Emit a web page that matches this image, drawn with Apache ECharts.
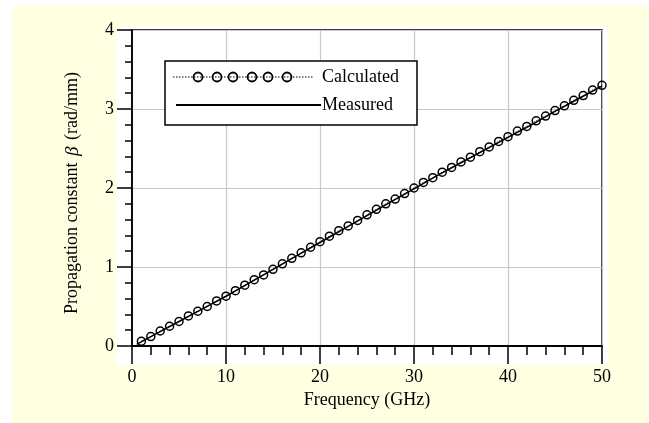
<!DOCTYPE html>
<html><head><meta charset="utf-8">
<script src="https://cdn.jsdelivr.net/npm/echarts@6/dist/echarts.min.js"></script>
<style>html,body{margin:0;padding:0;background:#fff;}#c{width:649px;height:423px;}</style>
</head><body><div id="c"></div>
<script>
var calcFreq = [1,2,3,4,5,6,7,8,9,10,11,12,13,14,15,16,17,18,19,20,21,22,23,24,25,26,27,28,29,30,31,32,33,34,35,36,37,38,39,40,41,42,43,44,45,46,47,48,49,50];
var calcBeta = [0.06,0.12,0.19,0.25,0.31,0.38,0.44,0.50,0.57,0.63,0.70,0.77,0.84,0.90,0.97,1.04,1.11,1.18,1.25,1.32,1.39,1.46,1.52,1.59,1.66,1.73,1.80,1.86,1.93,2.00,2.07,2.13,2.20,2.26,2.33,2.39,2.46,2.52,2.59,2.65,2.72,2.78,2.85,2.91,2.98,3.04,3.11,3.17,3.24,3.30];
var measFreq = [0.5,2.5,5,7.5,10,12.5,15,17.5,20,22.5,25,27.5,30,32.5,35,37.5,40,42.5,45,47.5,50];
var measBeta = [0.02,0.15,0.31,0.47,0.63,0.80,0.97,1.14,1.31,1.48,1.65,1.82,1.99,2.16,2.32,2.48,2.64,2.80,2.97,3.13,3.29];
var seriesNames = ['Calculated','Measured'];
var xTicks = [0,10,20,30,40,50];
var yTicks = [0,1,2,3,4];

var FONT = '"Liberation Serif", "Times New Roman", serif';
var FS = 18;
var chart = echarts.init(document.getElementById('c'), null, {renderer:'canvas'});
function pairs(xs, ys){ return xs.map(function(x,i){return [x, ys[i]];}); }

var legendCircles = [];
[198,217,233,252,268,287].forEach(function(cx){
  legendCircles.push({type:'circle', shape:{cx:cx, cy:77, r:4.5}, style:{fill:'rgba(0,0,0,0)', stroke:'#000', lineWidth:1.8}, z:102});
});

chart.setOption({
  animation:false,
  backgroundColor:'#fff',
  graphic:[
    {type:'rect', shape:{x:12,y:6,width:637,height:417}, style:{fill:'#FFFFE1'}, z:-10, silent:true},
    {type:'rect', shape:{x:116,y:27,width:492,height:338}, style:{fill:'#fff'}, z:-9, silent:true},
    {type:'rect', shape:{x:165,y:61,width:252,height:64}, style:{fill:'#fff', stroke:'#000', lineWidth:1.5}, z:100},
    {type:'line', shape:{x1:173,y1:77,x2:313,y2:77}, style:{stroke:'#000', lineWidth:1, lineDash:[1.5,1.5]}, z:101},
    {type:'line', shape:{x1:176,y1:105,x2:321,y2:105}, style:{stroke:'#000', lineWidth:1.8}, z:101},
    {type:'text', x:322, y:77, style:{text:seriesNames[0], font:FS+'px '+FONT, fill:'#000', verticalAlign:'middle'}, z:101},
    {type:'text', x:322, y:105, style:{text:seriesNames[1], font:FS+'px '+FONT, fill:'#000', verticalAlign:'middle'}, z:101}
  ].concat(legendCircles),
  grid:{left:132, right:47, top:30, bottom:77, show:true, borderColor:'#000', borderWidth:1.5, backgroundColor:'#fff'},
  xAxis:{
    type:'value', min:0, max:50, interval:10,
    name:'Frequency (GHz)', nameLocation:'middle', nameGap:43,
    nameTextStyle:{fontFamily:FONT, fontSize:FS, color:'#000'},
    axisLine:{show:true, onZero:false, lineStyle:{color:'#000', width:1.8}},
    axisTick:{show:true, inside:false, length:18, lineStyle:{color:'#000', width:1.5}},
    minorTick:{show:true, splitNumber:5, length:9, lineStyle:{color:'#000', width:1.5}},
    axisLabel:{fontFamily:FONT, fontSize:FS, color:'#000', margin:22,
      formatter:function(v){ return xTicks.indexOf(v)>=0 ? String(v) : ''; }},
    splitLine:{show:true, lineStyle:{color:'#c8c8c8', width:1.2}}
  },
  yAxis:{
    type:'value', min:0, max:4, interval:1,
    name:'{a|Propagation constant }{b|β}{a| (rad/mm)}', nameLocation:'middle', nameGap:50,
    nameTextStyle:{fontFamily:FONT, fontSize:FS, color:'#000', padding:[0,10,0,0],
      rich:{a:{fontFamily:FONT, fontSize:FS, color:'#000'}, b:{fontFamily:FONT, fontSize:FS+1, fontStyle:'italic', color:'#000', padding:[0,2,0,2]}}},
    axisLine:{show:true, onZero:false, lineStyle:{color:'#000', width:1.8}},
    axisTick:{show:true, inside:false, length:15, lineStyle:{color:'#000', width:1.5}},
    minorTick:{show:true, splitNumber:5, length:7, lineStyle:{color:'#000', width:1.5}},
    axisLabel:{fontFamily:FONT, fontSize:FS, color:'#000', margin:18,
      formatter:function(v){ return yTicks.indexOf(v)>=0 ? String(v) : ''; }},
    splitLine:{show:true, lineStyle:{color:'#c8c8c8', width:1.2}}
  },
  series:[
    {name:seriesNames[1], type:'line', data:pairs(measFreq, measBeta), showSymbol:false, symbol:'none',
     lineStyle:{color:'#000', width:1.5}, z:3},
    {name:seriesNames[0], type:'line', data:pairs(calcFreq, calcBeta), symbol:'circle', symbolSize:8,
     showSymbol:true, showAllSymbol:true,
     itemStyle:{color:'rgba(0,0,0,0)', borderColor:'#000', borderWidth:1.5},
     lineStyle:{color:'#000', width:1, type:'dotted'}, z:4}
  ]
});
</script></body></html>
